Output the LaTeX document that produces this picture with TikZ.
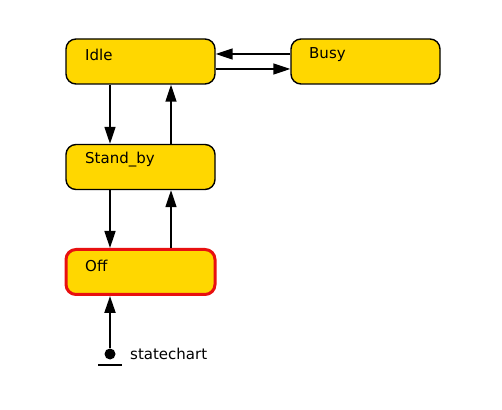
\documentclass[tikz,border=0pt]{standalone}
\usepackage{fontspec}
\setmainfont{DejaVu Sans}
\usetikzlibrary{arrows.meta,calc}
\definecolor{stfill}{HTML}{FFD700}
\definecolor{stred}{HTML}{E81010}
\tikzset{
  statebox/.style={draw=black, line width=1.4pt, fill=stfill, rounded corners=10pt,
    minimum width=149pt, minimum height=45pt, inner sep=0pt},
  offbox/.style={statebox, draw=stred, line width=3pt},
  stlabel/.style={anchor=west, inner sep=0pt, font=\fontsize{15}{18}\selectfont},
  trans/.style={line width=1.5pt, -{Triangle[length=17pt,width=11pt]}},
  inittrans/.style={line width=2.2pt, -{Triangle[length=17pt,width=11pt]}}
}
\begin{document}
\begin{tikzpicture}[x=1pt,y=1pt]
\useasboundingbox (0,0) rectangle (502,409);
\node[statebox] (idle) at (140.5,347.5) {};
\node[statebox] (busy) at (365.5,347.5) {};
\node[statebox] (sb) at (140.5,242) {};
\node[offbox] (off) at (140.5,137) {};
\node[stlabel] (idleT) at (85,354) {Idle};
\node[stlabel] (busyT) at (309,354) {Busy};
\node[stlabel] (sbT) at (85,249) {Stand\_by};
\node[stlabel] (offT) at (85,143.5) {Off};
\coordinate (xl) at (110,0);
\coordinate (xr) at (171,0);
\coordinate (yu) at (0,355);
\coordinate (yd) at (0,340);
\draw[trans] (busy.west |- yu) -- (idle.east |- yu);
\draw[trans] (idle.east |- yd) -- (busy.west |- yd);
\draw[trans] (idle.south -| xl) -- (sb.north -| xl);
\draw[trans] (sb.north -| xr) -- (idle.south -| xr);
\draw[trans] (sb.south -| xl) -- (off.north -| xl);
\draw[trans] (off.north -| xr) -- (sb.south -| xr);
\node[circle, fill=black, minimum size=11pt, inner sep=0pt] (init) at (110,55) {};
\coordinate (barL) at (98,44);
\coordinate (barR) at (122,44);
\draw[line width=2.2pt] (barL) -- (barR);
\draw[inittrans] (init) -- (off.south -| init);
\node[anchor=west, inner sep=0pt, font=\fontsize{15}{18}\selectfont] (initT) at (130,55) {statechart};
\end{tikzpicture}
\end{document}
